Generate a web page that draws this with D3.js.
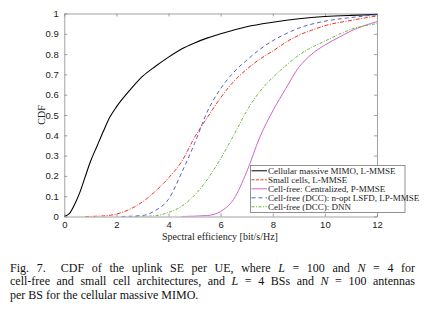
<!DOCTYPE html>
<html>
<head>
<meta charset="utf-8">
<script src="https://cdn.jsdelivr.net/npm/d3@7"></script>
<style>
  html, body { margin: 0; padding: 0; background: #fff; }
  svg { display: block; }
  .serif { font-family: "Liberation Serif", "Times New Roman", Times, "DejaVu Serif", serif; }
  .sans { font-family: "Liberation Sans", Arial, Helvetica, sans-serif; }
</style>
</head>
<body>
<div id="chart"></div>
<script>
// values
const cellularSE  = [0, 0.2, 0.4, 0.6, 0.8, 1.0, 1.25, 1.5, 1.75, 2, 2.5, 3, 3.5, 4, 4.5, 5, 5.5, 6, 7, 8, 9, 10, 11, 12];
const cellularCDF = [0, 0.015, 0.06, 0.12, 0.195, 0.27, 0.345, 0.42, 0.49, 0.54, 0.62, 0.69, 0.74, 0.785, 0.825, 0.855, 0.88, 0.9, 0.935, 0.957, 0.974, 0.985, 0.991, 0.995];

const smallSE  = [0.8, 1.5, 2, 2.5, 3, 3.5, 4, 4.5, 5, 5.5, 6, 6.5, 7, 7.5, 8, 8.5, 9, 9.5, 10, 11, 12];
const smallCDF = [0, 0.003, 0.012, 0.035, 0.072, 0.125, 0.19, 0.27, 0.39, 0.49, 0.585, 0.665, 0.725, 0.775, 0.815, 0.858, 0.893, 0.918, 0.94, 0.966, 0.988];

const centralSE  = [4.5, 5.5, 6, 6.5, 7, 7.5, 8, 8.5, 9, 9.5, 10, 10.5, 11, 12];
const centralCDF = [0, 0.005, 0.025, 0.085, 0.22, 0.39, 0.52, 0.63, 0.735, 0.8, 0.845, 0.88, 0.914, 0.96];

const lsfdSE  = [2.2, 3, 3.5, 4, 4.5, 5, 5.5, 6, 6.5, 7, 7.5, 8, 8.5, 9, 10, 11, 12];
const lsfdCDF = [0, 0.005, 0.03, 0.085, 0.215, 0.36, 0.52, 0.63, 0.71, 0.77, 0.823, 0.866, 0.9, 0.928, 0.962, 0.98, 0.994];

const dnnSE  = [2.7, 3.5, 4, 4.5, 5, 5.5, 6, 6.5, 7, 7.5, 8, 8.5, 9, 9.5, 10, 10.5, 11, 12];
const dnnCDF = [0, 0.004, 0.02, 0.05, 0.105, 0.185, 0.285, 0.4, 0.52, 0.615, 0.685, 0.743, 0.795, 0.833, 0.864, 0.895, 0.922, 0.95];

const seriesNames = [
  "Cellular massive MIMO, L-MMSE",
  "Small cells, L-MMSE",
  "Cell-free: Centralized, P-MMSE",
  "Cell-free (DCC): n-opt LSFD, LP-MMSE",
  "Cell-free (DCC): DNN"
];
const xTicks = [0, 2, 4, 6, 8, 10, 12];
const yTicks = [0, 0.1, 0.2, 0.3, 0.4, 0.5, 0.6, 0.7, 0.8, 0.9, 1];

const series = [
  { name: seriesNames[0], x: cellularSE, y: cellularCDF, color: "#000000", dash: null, legendDash: null },
  { name: seriesNames[1], x: smallSE, y: smallCDF, color: "#ee3322", dash: "4,1.5,1,1.5", legendDash: "3,1.5" },
  { name: seriesNames[2], x: centralSE, y: centralCDF, color: "#cc66cc", dash: null, legendDash: null },
  { name: seriesNames[3], x: lsfdSE, y: lsfdCDF, color: "#5560c8", dash: "4,3", legendDash: "4,3" },
  { name: seriesNames[4], x: dnnSE, y: dnnCDF, color: "#6cb830", dash: "3,1.5,1,1.5", legendDash: "3,1.5,1,1.5" }
];

const W = 424, H = 310;
const plot = { left: 64.3, right: 377, top: 13.5, bottom: 216.5 };

const svg = d3.select("#chart").append("svg")
  .attr("width", W).attr("height", H);

const x = d3.scaleLinear().domain([0, 12]).range([plot.left, plot.right]);
const y = d3.scaleLinear().domain([0, 1]).range([plot.bottom, plot.top]);

const axisColor = "#8a8a8a";

// axes (ticks inward, on all four sides)
const gx = svg.append("g").attr("transform", `translate(0,${plot.bottom})`)
  .call(d3.axisBottom(x).tickValues(xTicks).tickSizeInner(-3).tickSizeOuter(0).tickPadding(4.5));
const gxTop = svg.append("g").attr("transform", `translate(0,${plot.top})`)
  .call(d3.axisTop(x).tickValues(xTicks).tickSizeInner(-3).tickSizeOuter(0).tickFormat(""));
const gy = svg.append("g").attr("transform", `translate(${plot.left},0)`)
  .call(d3.axisLeft(y).tickValues(yTicks).tickSizeInner(-3).tickSizeOuter(0).tickPadding(5.5).tickFormat(d => d === 0 || d === 1 ? d : d.toFixed(1)));
const gyRight = svg.append("g").attr("transform", `translate(${plot.right},0)`)
  .call(d3.axisRight(y).tickValues(yTicks).tickSizeInner(-3).tickSizeOuter(0).tickFormat(""));

[gx, gxTop, gy, gyRight].forEach(g => {
  g.attr("font-family", null).attr("font-size", null);
  g.select(".domain").attr("stroke", axisColor).attr("stroke-width", 0.8);
  g.selectAll(".tick line").attr("stroke", axisColor).attr("stroke-width", 0.8);
  g.selectAll(".tick text").attr("class", "sans").attr("fill", "#222").attr("font-size", 9.5);
});

// curves
const line = d3.line().x(d => x(d[0])).y(d => y(d[1])).curve(d3.curveMonotoneX);
svg.append("defs").append("clipPath").attr("id", "clip")
  .append("rect").attr("x", plot.left).attr("y", plot.top - 2)
  .attr("width", plot.right - plot.left).attr("height", plot.bottom - plot.top + 2);

svg.append("g").attr("clip-path", "url(#clip)")
  .selectAll("path")
  .data(series)
  .enter()
  .append("path")
  .attr("d", s => line(s.x.map((v, i) => [v, s.y[i]])))
  .attr("fill", "none")
  .attr("stroke", s => s.color)
  .attr("stroke-width", s => s.color === "#000000" ? 1.1 : 1)
  .attr("stroke-dasharray", s => s.dash);

// axis labels
svg.append("text")
  .attr("class", "serif")
  .attr("x", 220).attr("y", 240)
  .attr("text-anchor", "middle")
  .attr("font-size", 10).attr("fill", "#222")
  .text("Spectral efficiency [bit/s/Hz]");

svg.append("text")
  .attr("class", "serif")
  .attr("transform", "translate(45,115) rotate(-90)")
  .attr("text-anchor", "middle")
  .attr("font-size", 10).attr("fill", "#222")
  .text("CDF");

// legend
const legend = svg.append("g");
legend.append("rect")
  .attr("x", 250.5).attr("y", 165.5).attr("width", 154.5).attr("height", 47)
  .attr("fill", "#fff").attr("stroke", "#777").attr("stroke-width", 0.8);

const rows = legend.selectAll(".row")
  .data(series)
  .enter()
  .append("g")
  .attr("class", "row")
  .attr("transform", (d, i) => `translate(0,${170.8 + i * 9})`);

rows.append("line")
  .attr("x1", 251.5).attr("x2", 267)
  .attr("stroke", d => d.color).attr("stroke-width", 1)
  .attr("stroke-dasharray", d => d.legendDash);

rows.append("text")
  .attr("class", "serif")
  .attr("x", 268).attr("y", 3)
  .attr("font-size", 9).attr("fill", "#222")
  .text(d => d.name);

// caption, first two lines justified through word spacing
const cap = svg.append("g").attr("class", "serif").attr("font-size", 12).attr("fill", "#111");
const capLines = [
  [["Fig. 7.  CDF of the uplink SE per UE, where ", false], ["L", true], [" = 100 and ", false], ["N", true], [" = 4 for", false]],
  [["cell-free and small cell architectures, and ", false], ["L", true], [" = 4 BSs and ", false], ["N", true], [" = 100 antennas", false]],
  [["per BS for the cellular massive MIMO.", false]]
];
capLines.forEach((parts, i) => {
  const t = cap.append("text").attr("class", "serif").attr("x", 10).attr("y", 272 + i * 13.3).attr("xml:space", "preserve");
  parts.forEach(([s, it]) => {
    t.append("tspan").text(s).attr("font-style", it ? "italic" : "normal");
  });
  if (i < 2) {
    const len = t.node().getComputedTextLength();
    const spaces = parts.map(p => p[0]).join("").split(" ").length - 1;
    t.attr("word-spacing", Math.max(0, (405 - len) / spaces));
  }
});
</script>
</body>
</html>
